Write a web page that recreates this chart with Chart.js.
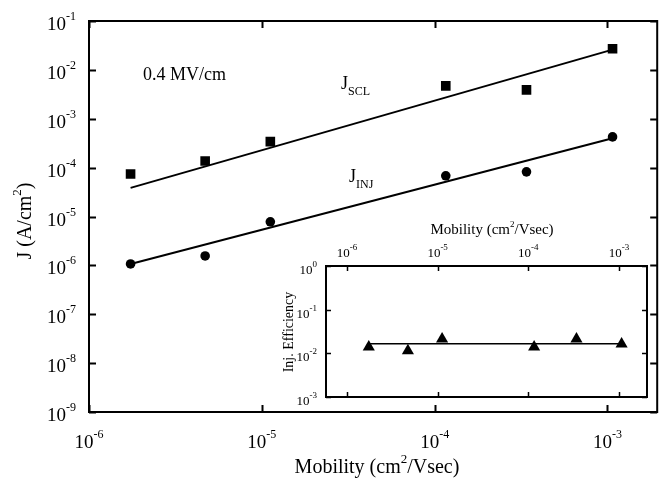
<!DOCTYPE html>
<html>
<head>
<meta charset="utf-8">
<script src="https://cdn.jsdelivr.net/npm/chart.js@4/dist/chart.umd.min.js"></script>
<style>
  html, body { margin: 0; padding: 0; background: #fff; }
  #wrap { position: relative; width: 659px; height: 485px; overflow: hidden; background: #fff; }
  #main { position: absolute; left: 0; top: 0; }
  #inset { position: absolute; left: 270px; top: 220px; }
</style>
</head>
<body>
<div id="wrap">
  <canvas id="main" width="664" height="485"></canvas>
  <canvas id="inset" width="390" height="185"></canvas>
</div>
<script>
// mobility values (cm2/Vsec), same six devices in both panels
const mobility = [1.74e-6, 4.7e-6, 1.12e-5, 1.16e-4, 3.4e-4, 1.07e-3];
// current densities at 0.4 MV/cm (A/cm2)
const jScl = [7.4e-5, 1.37e-4, 3.4e-4, 4.7e-3, 3.9e-3, 2.7e-2];
const jInj = [1.07e-6, 1.56e-6, 7.8e-6, 6.8e-5, 8.2e-5, 4.25e-4];
// inset: injection efficiency
const injEff = [0.014, 0.0114, 0.0214, 0.014, 0.0214, 0.0164];

// fitted lines (end points)
const fitX = [1.74e-6, 1.07e-3];
const sclFitY = [3.85e-5, 2.6e-2];
const injFitY = [1.07e-6, 4.0e-4];
const effFitY = [0.0165, 0.0165];

// tick values (powers of ten)
const mainXTicks = [1e-6, 1e-5, 1e-4, 1e-3];
const mainYTicks = [1e-9, 1e-8, 1e-7, 1e-6, 1e-5, 1e-4, 1e-3, 1e-2, 1e-1];
const insetXTicks = [1e-6, 1e-5, 1e-4, 1e-3];
const insetYTicks = [1e-3, 1e-2, 1e-1, 1e0];

const FONT = "'Liberation Serif', 'Times New Roman', serif";

function drawRich(ctx, parts, x, y, align, angle) {
  ctx.save();
  ctx.translate(x, y);
  if (angle) ctx.rotate(angle);
  ctx.textAlign = 'left';
  ctx.textBaseline = 'alphabetic';
  ctx.fillStyle = '#000';
  let total = 0;
  parts.forEach(p => {
    ctx.font = p.size + 'px ' + FONT;
    p.w = ctx.measureText(p.text).width;
    total += p.w;
  });
  let cx = align === 'center' ? -total / 2 : (align === 'right' ? -total : 0);
  parts.forEach(p => {
    ctx.font = p.size + 'px ' + FONT;
    ctx.fillText(p.text, cx, p.dy || 0);
    cx += p.w;
  });
  ctx.restore();
}

function powLabel(v, base, exp, rise) {
  const e = Math.round(Math.log10(v));
  return [{ text: '10', size: base }, { text: String(e), size: exp, dy: -rise }];
}

// frame, inward ticks, power-of-ten labels and texts
const framePlugin = {
  id: 'frame',
  afterDatasetsDraw(chart, args, o) {
    const ctx = chart.ctx;
    const a = chart.chartArea;
    const xs = chart.scales.x, ys = chart.scales.y;
    ctx.save();
    ctx.strokeStyle = '#000';
    ctx.lineWidth = o.lineWidth;
    ctx.strokeRect(a.left, a.top, a.right - a.left, a.bottom - a.top);
    ctx.lineWidth = o.tickWidth;
    ctx.beginPath();
    o.xTicks.forEach(v => {
      const px = Math.round(xs.getPixelForValue(v)) + 0.5;
      ctx.moveTo(px, a.bottom); ctx.lineTo(px, a.bottom - o.tickLen);
      ctx.moveTo(px, a.top); ctx.lineTo(px, a.top + o.tickLen);
    });
    o.yTicks.forEach(v => {
      const py = Math.round(ys.getPixelForValue(v)) + 0.5;
      ctx.moveTo(a.left, py); ctx.lineTo(a.left + o.tickLen, py);
      ctx.moveTo(a.right, py); ctx.lineTo(a.right - o.tickLen, py);
    });
    ctx.stroke();
    ctx.restore();

    const L = o.labels;
    o.xTicks.forEach(v => {
      const px = xs.getPixelForValue(v);
      const y = L.xSide === 'top' ? a.top - L.xGap : a.bottom + L.xGap;
      drawRich(ctx, powLabel(v, L.base, L.exp, L.rise), px, y, 'center');
    });
    o.yTicks.forEach(v => {
      const py = ys.getPixelForValue(v);
      drawRich(ctx, powLabel(v, L.base, L.exp, L.rise), a.left - L.yGap, py + L.yShift, 'right');
    });
    (o.texts || []).forEach(t => drawRich(ctx, t.parts, t.x, t.y, t.align || 'left', t.angle || 0));
  }
};

function pts(xArr, yArr) {
  return xArr.map((x, i) => ({ x: x, y: yArr[i] }));
}

const baseOptions = (xMin, xMax, yMin, yMax, padding, frame) => ({
  responsive: false,
  animation: false,
  events: [],
  layout: { padding: padding },
  scales: {
    x: { type: 'logarithmic', min: xMin, max: xMax, display: false },
    y: { type: 'logarithmic', min: yMin, max: yMax, display: false }
  },
  plugins: { legend: { display: false }, tooltip: { enabled: false }, frame: frame }
});

new Chart(document.getElementById('main'), {
  type: 'scatter',
  plugins: [framePlugin],
  data: {
    datasets: [
      { data: pts(fitX, sclFitY), showLine: true, borderColor: '#000', borderWidth: 2, pointRadius: 0 },
      { data: pts(fitX, injFitY), showLine: true, borderColor: '#000', borderWidth: 2, pointRadius: 0 },
      { data: pts(mobility, jScl), pointStyle: 'rect', pointRadius: 6.8, backgroundColor: '#000', borderWidth: 0 },
      { data: pts(mobility, jInj), pointStyle: 'circle', pointRadius: 4.8, backgroundColor: '#000', borderWidth: 0 }
    ]
  },
  // right frame edge sits just past the visible window, as in the source
  options: baseOptions(1e-6, 1.94e-3, 1e-9, 1e-1, { left: 89, top: 21, right: 3, bottom: 73 }, {
    lineWidth: 2, tickWidth: 2, tickLen: 7, xTicks: mainXTicks, yTicks: mainYTicks,
    labels: { base: 19, exp: 12, rise: 10, xSide: 'bottom', xGap: 36, yGap: 13, yShift: 9 },
    texts: [
      { parts: [{ text: 'Mobility (cm', size: 20 }, { text: '2', size: 13, dy: -10 }, { text: '/Vsec)', size: 20 }], x: 377, y: 473, align: 'center' },
      { parts: [{ text: 'J (A/cm', size: 20 }, { text: '2', size: 13, dy: -10 }, { text: ')', size: 20 }], x: 31, y: 221, align: 'center', angle: -Math.PI / 2 },
      { parts: [{ text: '0.4 MV/cm', size: 18 }], x: 143, y: 80 },
      { parts: [{ text: 'J', size: 18 }, { text: 'SCL', size: 12, dy: 6 }], x: 341, y: 89 },
      { parts: [{ text: 'J', size: 18 }, { text: 'INJ', size: 12, dy: 6 }], x: 349, y: 182 }
    ]
  })
});

new Chart(document.getElementById('inset'), {
  type: 'scatter',
  plugins: [framePlugin],
  data: {
    datasets: [
      { data: pts(fitX, effFitY), showLine: true, borderColor: '#000', borderWidth: 1.5, pointRadius: 0 },
      { data: pts(mobility, injEff), pointStyle: 'triangle', pointRadius: 7, backgroundColor: '#000', borderWidth: 0 }
    ]
  },
  options: baseOptions(5.87e-7, 2.04e-3, 1e-3, 1, { left: 56, top: 46, right: 13, bottom: 8 }, {
    lineWidth: 2, tickWidth: 1.5, tickLen: 5, xTicks: insetXTicks, yTicks: insetYTicks,
    labels: { base: 13, exp: 9, rise: 7, xSide: 'top', xGap: 9, yGap: 9, yShift: 8 },
    texts: [
      { parts: [{ text: 'Mobility (cm', size: 15 }, { text: '2', size: 9, dy: -7 }, { text: '/Vsec)', size: 15 }], x: 222, y: 14, align: 'center' },
      { parts: [{ text: 'Inj. Efficiency', size: 14 }], x: 23, y: 112, align: 'center', angle: -Math.PI / 2 }
    ]
  })
});
</script>
</body>
</html>
